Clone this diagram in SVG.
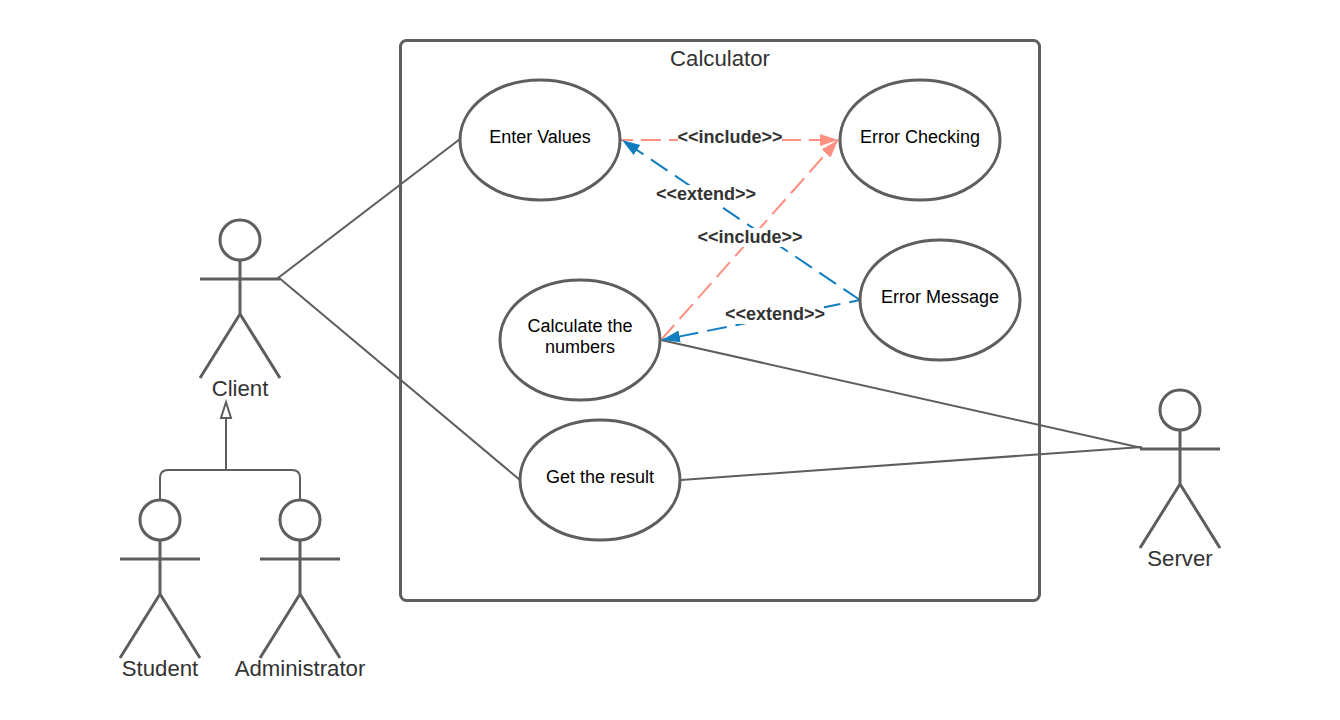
<svg xmlns="http://www.w3.org/2000/svg" width="1340" height="720" viewBox="0 0 1340 720">
<defs>
<marker id="ap" markerUnits="userSpaceOnUse" markerWidth="20" markerHeight="14" refX="18" refY="7" orient="auto"><path d="M0 1L18 7L0 13z" fill="#ff8f80"/></marker>
<marker id="ab" markerUnits="userSpaceOnUse" markerWidth="20" markerHeight="14" refX="18" refY="7" orient="auto"><path d="M0 1L18 7L0 13z" fill="#107dc0"/></marker>
</defs>
<style>
text{font-family:"Liberation Sans",Arial,sans-serif;text-anchor:middle;fill:#333}
.u{fill:#fff;stroke:#5e5e5e;stroke-width:3}
.a{fill:none;stroke:#5e5e5e;stroke-width:3}
.n{font-size:18px;fill:#000}
.t{font-size:22.2px}
.l{fill:none;stroke:#5e5e5e;stroke-width:2}
.p{fill:none;stroke:#ff8f80;stroke-width:2;stroke-dasharray:20 8}
.b{fill:none;stroke:#107dc0;stroke-width:2;stroke-dasharray:20 9}
.k{font-size:18px;font-weight:bold}
.g{fill:#fff}
</style>
<rect width="1340" height="720" fill="#fff"/>
<g id="system"><rect x="400.500" y="40.500" width="639" height="560" rx="6" fill="#fff" stroke="#5e5e5e" stroke-width="3"/><text class="t" x="720" y="66">Calculator</text></g>
<g id="connectors">
<path class="l" d="M278 278L460 139"/>
<path class="l" d="M278 277L520 480"/>
<path class="l" d="M661 340L1142 448"/>
<path class="l" d="M681 480L1142 447"/>
<path class="l" d="M160 500V478Q160 470 168 470H292Q300 470 300 478V500M226 470V418"/>
<path d="M226 402L231 418H221z" fill="#fff" stroke="#5e5e5e" stroke-width="2"/>
<path class="p" d="M621 140H838" stroke-dashoffset="8" marker-end="url(#ap)"/>
<path class="p" d="M661 340L838 140" marker-end="url(#ap)"/>
<path class="b" d="M860 300L622 140" marker-end="url(#ab)"/>
<path class="b" d="M860 300L662 340" stroke-dashoffset="9" marker-end="url(#ab)"/>
<rect class="g" x="678" y="128" width="104" height="19"/><text class="k" x="730" y="143">&lt;&lt;include&gt;&gt;</text>
<rect class="g" x="657" y="185" width="98" height="19"/><text class="k" x="706" y="200">&lt;&lt;extend&gt;&gt;</text>
<rect class="g" x="698" y="228" width="104" height="19"/><text class="k" x="750" y="243">&lt;&lt;include&gt;&gt;</text>
<rect class="g" x="726" y="305" width="98" height="19"/><text class="k" x="775" y="320">&lt;&lt;extend&gt;&gt;</text>
</g>
<g id="enter-values"><ellipse class="u" cx="540" cy="140" rx="80" ry="60"/><text class="n" x="540" y="143">Enter Values</text></g>
<g id="error-checking"><ellipse class="u" cx="920" cy="140" rx="80" ry="60"/><text class="n" x="920" y="143">Error Checking</text></g>
<g id="error-message"><ellipse class="u" cx="940" cy="300" rx="80" ry="60"/><text class="n" x="940" y="303">Error Message</text></g>
<g id="calculate"><ellipse class="u" cx="580" cy="340" rx="80" ry="60"/><text class="n" x="580" y="332">Calculate the</text><text class="n" x="580" y="353">numbers</text></g>
<g id="get-result"><ellipse class="u" cx="600" cy="480" rx="80" ry="60"/><text class="n" x="600" y="483">Get the result</text></g>
<g id="client"><circle class="a" cx="240" cy="240" r="20"/><path class="a" d="M240 260V314M200 279H280M200 378L240 314L280 378"/><text class="t" x="240" y="396">Client</text></g>
<g id="student"><circle class="a" cx="160" cy="520" r="20"/><path class="a" d="M160 540V594M120 559H200M120 658L160 594L200 658"/><text class="t" x="160" y="676">Student</text></g>
<g id="administrator"><circle class="a" cx="300" cy="520" r="20"/><path class="a" d="M300 540V594M260 559H340M260 658L300 594L340 658"/><text class="t" x="300" y="676">Administrator</text></g>
<g id="server"><circle class="a" cx="1180" cy="410" r="20"/><path class="a" d="M1180 430V484M1140 449H1220M1140 548L1180 484L1220 548"/><text class="t" x="1180" y="566">Server</text></g>
</svg>
